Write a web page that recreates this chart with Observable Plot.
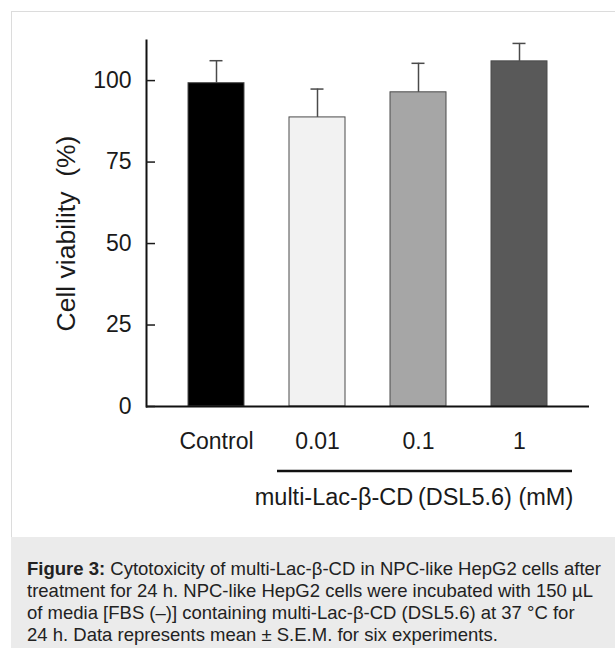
<!DOCTYPE html>
<html>
<head>
<meta charset="utf-8">
<script src="https://cdn.jsdelivr.net/npm/d3@7"></script>
<script src="https://cdn.jsdelivr.net/npm/@observablehq/plot@0.6"></script>
<style>
  html, body { margin: 0; padding: 0; background: #fff; width: 615px; height: 648px; overflow: hidden; }
  #box { position: absolute; left: 11px; top: 11px; width: 800px; height: 525px; border: 1.5px solid #dcdcdc; background: #fff; }
  #chart { position: absolute; left: 0; top: 0; }
  #caption { position: absolute; left: 11px; top: 537px; width: 800px; height: 140px; background: #ebebeb;
    font-family: "Liberation Sans", Arial, sans-serif; font-size: 18.5px; line-height: 22px; color: #222;
    box-sizing: border-box; padding: 21px 0 0 16px; white-space: nowrap; }
</style>
</head>
<body>
<div id="box"></div>
<div id="chart"></div>
<div id="caption"><b>Figure 3:</b> Cytotoxicity of multi-Lac-β-CD in NPC-like HepG2 cells after<br>treatment for 24 h. NPC-like HepG2 cells were incubated with 150 µL<br>of media [FBS (–)] containing multi-Lac-β-CD (DSL5.6) at 37 °C for<br>24 h. Data represents mean ± S.E.M. for six experiments.</div>
<script>
const categories = ["Control", "0.01", "0.1", "1"];
const viability = [99.2, 88.7, 96.4, 105.9];
const sem = [6.9, 8.7, 8.9, 5.5];
const yTicks = [0, 25, 50, 75, 100];
const yLabel = "Cell viability\u00a0 (%)";
const groupLabel = "multi-Lac-β-CD\u2009(DSL5.6) (mM)";
const groupFrom = "0.01";
const groupTo = "1";
const groupCenter = "0.1";

const barColors = ["#000000", "#f2f2f2", "#a6a6a6", "#595959"];
const data = categories.map((c, i) => ({cat: c, v: viability[i], e: sem[i], top: viability[i] + sem[i]}));

const chart = Plot.plot({
  width: 615,
  height: 530,
  marginTop: 40,
  marginBottom: 124,
  marginLeft: 146,
  marginRight: 26,
  style: {fontFamily: "'Liberation Sans', Arial, sans-serif", background: "transparent", color: "#1a1a1a"},
  x: {type: "band", domain: categories, paddingInner: 0.447, paddingOuter: 0.41, label: null},
  y: {domain: [0, 112.3], label: null},
  color: {domain: categories, range: barColors},
  marks: [
    Plot.barY(data, {x: "cat", y: "v", fill: "cat", stroke: "#4a4a4a", strokeWidth: 1}),
    Plot.ruleX(data, {x: "cat", y1: "v", y2: "top", stroke: "#4a4a4a", strokeWidth: 1.5}),
    Plot.tickY(data, {x: "cat", y: "top", stroke: "#4a4a4a", strokeWidth: 1.5, inset: 21.5}),
    Plot.frame({anchor: "left", stroke: "#111", strokeWidth: 2}),
    Plot.ruleY([0], {stroke: "#111", strokeWidth: 2}),
    Plot.axisY({ticks: yTicks, tickSize: -9, tickPadding: 24, fontSize: 23, strokeWidth: 1.5, label: null}),
    Plot.axisX({tickSize: 0, tickPadding: 26, fontSize: 23, label: null}),
    Plot.rect([{a: groupFrom, b: groupTo}], {x1: "a", x2: "b", y1: () => 0, y2: () => 0,
      insetLeft: -12, insetRight: -25, insetTop: -1.25, insetBottom: -1.25, dy: 65, fill: "#111"}),
    Plot.text([groupLabel], {x: () => groupCenter, frameAnchor: "bottom", lineAnchor: "middle", textAnchor: "middle",
      dy: 90.5, dx: -4.5, fontSize: 23.5, fill: "#1a1a1a"}),
    Plot.text([yLabel], {frameAnchor: "left", textAnchor: "middle", lineAnchor: "middle", rotate: -90,
      dx: -80, dy: 10, fontSize: 26.5, fill: "#1a1a1a"})
  ]
});
document.getElementById("chart").appendChild(chart);
</script>
</body>
</html>
